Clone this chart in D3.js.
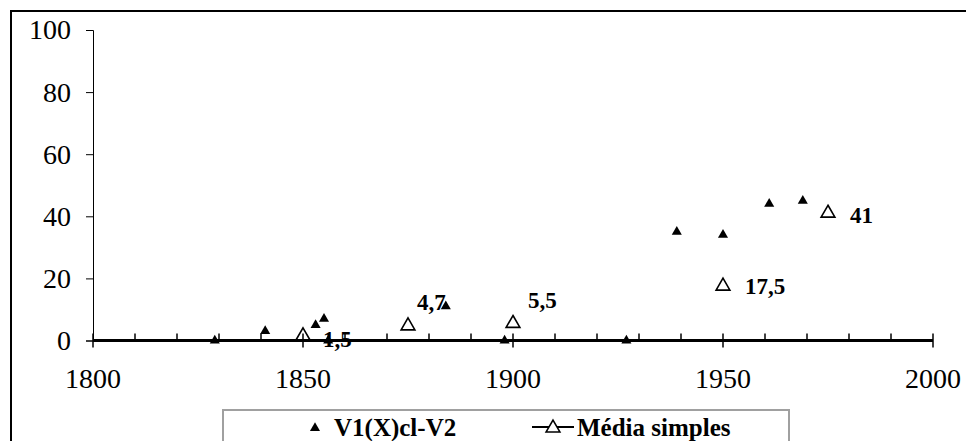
<!DOCTYPE html>
<html><head><meta charset="utf-8">
<script src="https://cdn.jsdelivr.net/npm/d3@7"></script>
<style>html,body{margin:0;padding:0;background:#fff;}svg{display:block;}</style>
</head><body>
<svg id="chart" width="966" height="441"></svg>
<script>
// Data
const seriesYears = [1829, 1841, 1853, 1855, 1856, 1884, 1898, 1927, 1939, 1950, 1961, 1969];
const seriesValues = [0, 3, 5, 7, 0, 11, 0, 0, 35, 34, 44, 45];
const meanYears = [1850, 1875, 1900, 1950, 1975];
const meanValues = [1.5, 4.7, 5.5, 17.5, 41];
const meanLabels = ["1,5", "4,7", "5,5", "17,5", "41"];
const xTicks = [1800, 1850, 1900, 1950, 2000];
const yTicks = [0, 20, 40, 60, 80, 100];
const seriesNames = ["V1(X)cl-V2", "Média simples"];
// label placement offsets (px) relative to the mean point
const labelOffsets = [[20, 3], [9, -24], [15, -23], [22, 0], [22, 2]];

const svg = d3.select("#chart");
const serif = "'Liberation Serif','Times New Roman',serif";

// outer frame
svg.append("path").attr("d", "M11,445 V11 H970").attr("fill", "none").attr("stroke", "#000").attr("stroke-width", 2);

const x = d3.scaleLinear().domain([1800, 2000]).range([93, 933]);
const y = d3.scaleLinear().domain([0, 100]).range([340.5, 30]);

// y axis
const yAxis = svg.append("g").attr("transform", `translate(${x(1800)},0)`)
  .call(d3.axisLeft(y).tickValues(yTicks).tickSize(7).tickPadding(15).tickFormat(d3.format("d")));
yAxis.select(".domain").attr("stroke", "#000").attr("stroke-width", 1);
yAxis.selectAll(".tick line").attr("stroke", "#000");
yAxis.selectAll("text").attr("font-family", serif).attr("font-size", 28).attr("fill", "#000");

// x axis at y=0 (thick)
const xg = svg.append("g").attr("transform", `translate(0,${y(0)})`);
xg.append("line").attr("x1", x(1800)).attr("x2", x(2000)).attr("stroke", "#000").attr("stroke-width", 3);
const minor = d3.range(1800, 2001, 10);
xg.selectAll("line.minor").data(minor).join("line").attr("class", "minor")
  .attr("x1", d => x(d)).attr("x2", d => x(d))
  .attr("y1", -7).attr("y2", d => (d % 50 === 0 ? 7 : 0))
  .attr("stroke", "#000").attr("stroke-width", 1.5);
xg.selectAll("text").data(xTicks).join("text")
  .attr("x", d => x(d)).attr("y", 47)
  .attr("text-anchor", "middle").attr("font-family", serif).attr("font-size", 28).attr("fill", "#000")
  .text(d => d);

// series: filled triangles
const filledTri = d3.symbol().type(d3.symbolTriangle).size(44);
svg.append("g").selectAll("path").data(seriesYears.map((yr, i) => [yr, seriesValues[i]])).join("path")
  .attr("d", filledTri)
  .attr("transform", d => `translate(${x(d[0])},${y(d[1])})`)
  .attr("fill", "#000");

// means: open triangles
const openTri = d3.symbol().type(d3.symbolTriangle).size(82);
svg.append("g").selectAll("path").data(meanYears.map((yr, i) => [yr, meanValues[i]])).join("path")
  .attr("d", openTri)
  .attr("transform", d => `translate(${x(d[0])},${y(d[1])})`)
  .attr("fill", "none").attr("stroke", "#000").attr("stroke-width", 1.6);

// mean labels
svg.append("g").selectAll("text").data(meanYears.map((yr, i) => i)).join("text")
  .attr("x", i => x(meanYears[i]) + labelOffsets[i][0])
  .attr("y", i => y(meanValues[i]) + labelOffsets[i][1])
  .attr("dy", "0.35em")
  .attr("font-family", serif).attr("font-weight", "bold").attr("font-size", 23).attr("fill", "#000")
  .text(i => meanLabels[i]);

// legend
const lg = svg.append("g");
lg.append("rect").attr("x", 223).attr("y", 410).attr("width", 566).attr("height", 60)
  .attr("fill", "#fff").attr("stroke", "#a0a0a0").attr("stroke-width", 2);
lg.append("path").attr("d", filledTri).attr("transform", "translate(315,428)").attr("fill", "#000");
lg.append("text").attr("x", 334).attr("y", 436).attr("font-family", serif).attr("font-weight", "bold")
  .attr("font-size", 25).attr("fill", "#000").text(seriesNames[0]);
lg.append("line").attr("x1", 532).attr("x2", 574).attr("y1", 427).attr("y2", 427).attr("stroke", "#000").attr("stroke-width", 2);
lg.append("path").attr("d", openTri).attr("transform", "translate(553,428)").attr("fill", "#fff").attr("stroke", "#000").attr("stroke-width", 1.6);
lg.append("text").attr("x", 577).attr("y", 436).attr("font-family", serif).attr("font-weight", "bold")
  .attr("font-size", 25).attr("fill", "#000").text(seriesNames[1]);
</script>
</body></html>
